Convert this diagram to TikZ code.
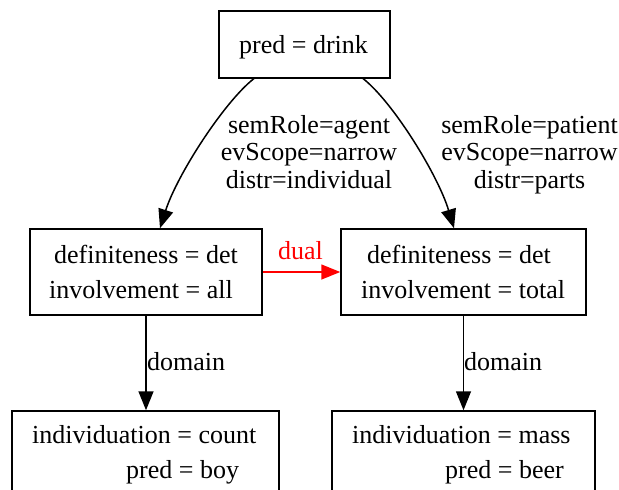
\documentclass[tikz,border=0pt]{standalone}
\usepackage{fontspec}
\setmainfont{Liberation Serif}
\usetikzlibrary{arrows.meta}
\begin{document}
\begin{tikzpicture}[x=1pt,y=-1pt,
  box/.style={draw, line width=1.5pt, rectangle, inner sep=0pt},
  txt/.style={anchor=base west, inner sep=0pt, font=\fontsize{26}{28}\selectfont},
  elab/.style={anchor=base, inner sep=0pt, font=\fontsize{26}{28}\selectfont},
  edge/.style={line width=1.5pt, -{Triangle[length=19pt,width=15pt]}}]
\useasboundingbox (0,0) rectangle (619,490);
\clip (0,0) rectangle (619,490);
% boxes
\node[box, minimum width=171pt, minimum height=67pt] (top) at (304.5,44.3) {};
\node[box, minimum width=232pt, minimum height=86pt] (lm) at (146,272) {};
\node[box, minimum width=245pt, minimum height=86pt] (rm) at (463.5,272) {};
\node[box, minimum width=267pt, minimum height=86pt] (bl) at (145.5,454) {};
\node[box, minimum width=263pt, minimum height=86pt] (br) at (463.5,454) {};
% texts
\node[txt] (t1) at (239,53) {pred = drink};
\node[txt] (l1) at (54,263) {definiteness = det};
\node[txt] (l2) at (49,298) {involvement = all};
\node[txt] (r1) at (367,263) {definiteness = det};
\node[txt] (r2) at (361,298) {involvement = total};
\node[txt] (b1) at (32,443) {individuation = count};
\node[txt] (b2) at (126,478) {pred = boy};
\node[txt] (c1) at (352,443) {individuation = mass};
\node[txt] (c2) at (445,478) {pred = beer};
% edge labels
\node[elab] (la1) at (309,133) {semRole=agent};
\node[elab] (la2) at (309,160) {evScope=narrow};
\node[elab] (la3) at (309,188) {distr=individual};
\node[elab] (ra1) at (529.5,133) {semRole=patient};
\node[elab] (ra2) at (529.5,160) {evScope=narrow};
\node[elab] (ra3) at (529.5,188) {distr=parts};
\node[txt, text=red] (dl) at (278,259) {dual};
\node[txt] (d1) at (147,370) {domain};
\node[txt] (d2) at (464,370) {domain};
% edges
\draw[edge] ([xshift=-50.5pt]top.south) .. controls (224,102) and (177,175) .. ([xshift=14pt]lm.north);
\draw[edge] ([xshift=58.5pt]top.south) .. controls (393,102) and (438,175) .. ([xshift=-9.5pt]rm.north);
\draw[edge, red] (lm.east) -- (rm.west);
\draw[edge] (lm.south) -- (lm.south |- bl.north);
\draw[edge] (rm.south) -- (br.north);
\end{tikzpicture}
\end{document}
